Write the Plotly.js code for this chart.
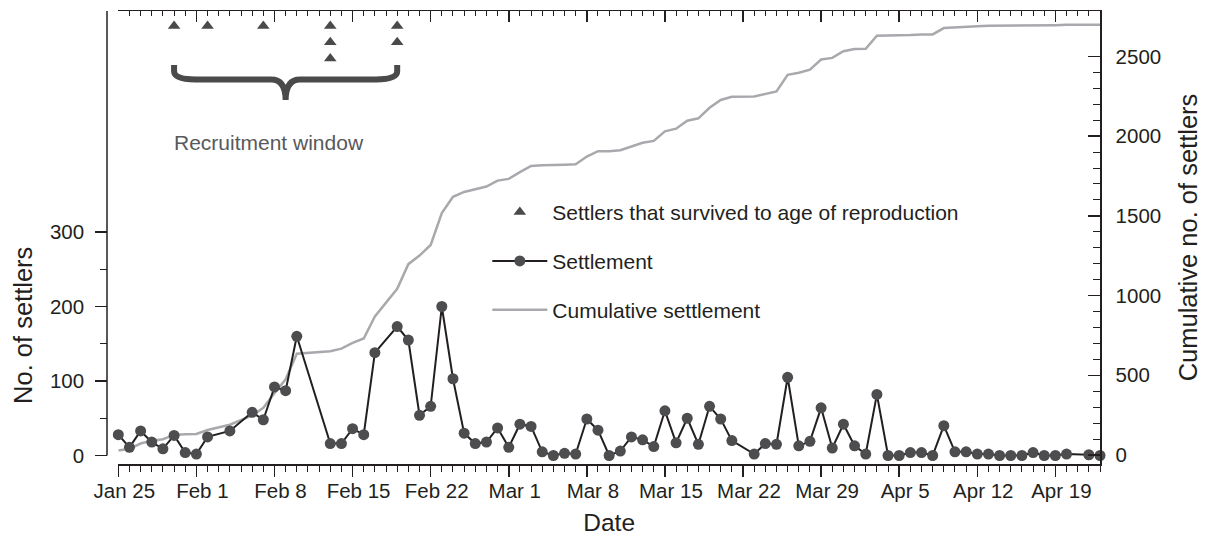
<!DOCTYPE html>
<html><head><meta charset="utf-8">
<script src="https://cdn.plot.ly/plotly-3.0.1.min.js"></script>
<style>html,body{margin:0;padding:0;background:#fff;}#chart{width:1209px;height:536px;}</style>
</head><body><div id="chart"></div>
<script>
const dates = [
 '2001-01-25','2001-01-26','2001-01-27','2001-01-28','2001-01-29','2001-01-30','2001-01-31',
 '2001-02-01','2001-02-02','2001-02-04','2001-02-06','2001-02-07','2001-02-08','2001-02-09','2001-02-10',
 '2001-02-13','2001-02-14','2001-02-15','2001-02-16','2001-02-17','2001-02-19','2001-02-20','2001-02-21',
 '2001-02-22','2001-02-23','2001-02-24','2001-02-25','2001-02-26','2001-02-27','2001-02-28',
 '2001-03-01','2001-03-02','2001-03-03','2001-03-04','2001-03-05','2001-03-06','2001-03-07','2001-03-08',
 '2001-03-09','2001-03-10','2001-03-11','2001-03-12','2001-03-13','2001-03-14','2001-03-15','2001-03-16',
 '2001-03-17','2001-03-18','2001-03-19','2001-03-20','2001-03-21',
 '2001-03-23','2001-03-24','2001-03-25','2001-03-26','2001-03-27','2001-03-28','2001-03-29','2001-03-30','2001-03-31',
 '2001-04-01','2001-04-02','2001-04-03','2001-04-04','2001-04-05','2001-04-06','2001-04-07','2001-04-08',
 '2001-04-09','2001-04-10','2001-04-11','2001-04-12','2001-04-13','2001-04-14','2001-04-15','2001-04-16',
 '2001-04-17','2001-04-18','2001-04-19','2001-04-20','2001-04-22','2001-04-23'
];
const settlers = [
 28, 11, 33, 18, 9, 27, 4,
 2, 25, 33, 58, 48, 92, 87, 160,
 16, 16, 36, 28, 138, 173, 155, 54,
 66, 200, 103, 30, 16, 18, 37,
 11, 42, 39, 5, 0, 3, 2, 49,
 34, 0, 6, 25, 21, 12, 60, 17,
 50, 15, 66, 49, 20,
 2, 16, 15, 105, 13, 19, 64, 10, 42,
 13, 2, 82, 0, 0, 4, 4, 0,
 40, 5, 5, 2, 2, 0, 0, 0,
 4, 0, 0, 2, 1, 0
];
const cumulative = [
 28, 39, 72, 90, 99, 126, 130,
 132, 157, 190, 248, 296, 388, 475, 635,
 651, 667, 703, 731, 869, 1042, 1197, 1251,
 1317, 1517, 1620, 1650, 1666, 1684, 1721,
 1732, 1774, 1813, 1818, 1818, 1821, 1823, 1872,
 1906, 1906, 1912, 1937, 1958, 1970, 2030, 2047,
 2097, 2112, 2178, 2227, 2247,
 2249, 2265, 2280, 2385, 2398, 2417, 2481, 2491, 2533,
 2546, 2548, 2630, 2630, 2630, 2634, 2638, 2638,
 2678, 2683, 2688, 2690, 2692, 2692, 2692, 2692,
 2696, 2696, 2696, 2698, 2699, 2699
];
const survivorDates = ['2001-01-30','2001-02-02','2001-02-07','2001-02-13','2001-02-13','2001-02-13','2001-02-19','2001-02-19'];
const survivorRow = [1, 1, 1, 1, 2, 3, 1, 2];
const leftTicks = [0, 100, 200, 300];
const leftMinor = [50, 150, 250];
const rightTicks = [0, 500, 1000, 1500, 2000, 2500];
const rightMinor = [100,200,300,400,600,700,800,900,1100,1200,1300,1400,1600,1700,1800,1900,2100,2200,2300,2400];

const INK = '#231f20';
const FONT = 'Liberation Sans, Arial, Helvetica, sans-serif';
const DAY = 86400000;
function ms(s){ const p = s.split('-').map(Number); return Date.UTC(p[0], p[1]-1, p[2]); }

const W = 1209, H = 536, L = 107, R = 1209 - 1099.6, T = 11, B = 72;
const plotW = W - L - R, plotH = H - T - B;
const xStart = 11.3 / plotW;
const leftRange = [-11.4, 596.6];
const rightRange = [-56.5, 2785];
const rowRange = [28.04, 0.074];
const xRange = [dates[0], dates[dates.length - 1]];

// brace spanning the recruitment window
const xL = ms(survivorDates[0]), xR = ms(survivorDates[survivorDates.length - 1]), xM = (xL + xR) / 2;
const yTop = 3.41, yA = 3.8, yH = 4.3, yTip = 5.57, rx = 1.9 * DAY, rm = 1.3 * DAY;
const bracePath = `M${xL},${yTop} L${xL},${yA} Q${xL},${yH} ${xL + rx},${yH} L${xM - rm},${yH} Q${xM},${yH} ${xM},${yTip} Q${xM},${yH} ${xM + rm},${yH} L${xR - rx},${yH} Q${xR},${yH} ${xR},${yA} L${xR},${yTop}`;

const traces = [
  {
    x: survivorDates, y: survivorRow, xaxis: 'x2', yaxis: 'y3', type: 'scatter', mode: 'markers',
    name: 'Settlers that survived to age of reproduction',
    marker: {symbol: 'triangle-up', size: 11, color: '#4a4a4a'},
    legendgroup: 'a', legendrank: 1, hoverinfo: 'x'
  },
  {
    x: dates, y: cumulative, xaxis: 'x', yaxis: 'y', type: 'scatter', mode: 'lines',
    name: 'Cumulative settlement',
    line: {color: '#a7a9ac', width: 2.5}, cliponaxis: false,
    legendgroup: 'c', legendrank: 3
  },
  {
    x: dates, y: settlers, xaxis: 'x', yaxis: 'y2', type: 'scatter', mode: 'lines+markers',
    name: 'Settlement',
    line: {color: INK, width: 2},
    marker: {size: 11, color: '#4d4d4f'}, cliponaxis: false,
    legendgroup: 'b', legendrank: 2
  }
];

const layout = {
  width: W, height: H,
  margin: {l: L, r: R, t: T, b: B, pad: 0},
  paper_bgcolor: '#ffffff', plot_bgcolor: 'rgba(0,0,0,0)',
  font: {family: FONT, color: INK, size: 20.5},
  showlegend: true,
  legend: {
    x: 0.383, y: 0.6006, xanchor: 'left', yanchor: 'top',
    traceorder: 'grouped', tracegroupgap: 18.5, itemwidth: 55,
    font: {family: FONT, size: 21, color: INK}, bgcolor: 'rgba(0,0,0,0)', borderwidth: 0
  },
  xaxis: {
    type: 'date', domain: [xStart, 1], range: xRange, anchor: 'y',
    showline: true, linecolor: INK, linewidth: 1.5, mirror: false,
    ticks: 'outside', ticklen: 11.7, tickwidth: 1.5, tickcolor: INK,
    tick0: dates[0], dtick: 7 * DAY, tickformat: '%b %-d',
    tickfont: {family: FONT, size: 20.5, color: INK}, ticklabelshift: 6, ticklabelstandoff: -4,
    minor: {tick0: dates[0], dtick: DAY, ticks: 'outside', ticklen: 6.3, tickwidth: 1, tickcolor: INK, showgrid: false},
    showgrid: false, zeroline: false,
    title: {text: 'Date', font: {family: FONT, size: 24.5, color: INK}, standoff: 13}
  },
  xaxis2: {
    type: 'date', overlaying: 'x', side: 'top', anchor: 'y', range: xRange,
    showline: true, linecolor: INK, linewidth: 1.5,
    ticks: 'inside', ticklen: 11, tickwidth: 1.5, tickcolor: INK,
    tick0: dates[0], dtick: 7 * DAY, showticklabels: false,
    minor: {tick0: dates[0], dtick: DAY, ticks: 'inside', ticklen: 5, tickwidth: 1, tickcolor: INK, showgrid: false},
    showgrid: false, zeroline: false
  },
  yaxis: {
    side: 'right', anchor: 'x', range: rightRange,
    showline: true, linecolor: INK, linewidth: 1.5,
    ticks: 'inside', ticklen: 12, tickwidth: 1.5, tickcolor: INK,
    tickmode: 'array', tickvals: rightTicks, ticklabelstandoff: 10,
    minor: {tickmode: 'array', tickvals: rightMinor, ticks: 'inside', ticklen: 7, tickwidth: 1, tickcolor: INK, showgrid: false},
    tickfont: {family: FONT, size: 20.5, color: INK},
    showgrid: false, zeroline: false,
    title: {text: 'Cumulative no. of settlers', font: {family: FONT, size: 25.5, color: INK}, standoff: 19}
  },
  yaxis2: {
    overlaying: 'y', side: 'left', anchor: 'free', position: 0, range: leftRange,
    showline: false,
    ticks: 'outside', ticklen: 11.7, tickwidth: 1.5, tickcolor: INK,
    tickmode: 'array', tickvals: leftTicks, ticklabelstandoff: 7,
    minor: {tickmode: 'array', tickvals: leftMinor, ticks: 'outside', ticklen: 6.7, tickwidth: 1, tickcolor: INK, showgrid: false},
    tickfont: {family: FONT, size: 20.5, color: INK},
    showgrid: false, zeroline: false
  },
  yaxis3: {overlaying: 'y', range: rowRange, visible: false, anchor: 'x2'},
  shapes: [
    {type: 'line', xref: 'paper', yref: 'y2', x0: 0, x1: 0, y0: 0, y1: leftRange[1], line: {color: INK, width: 1.5}},
    {type: 'path', xref: 'x', yref: 'y3', path: bracePath, line: {color: '#4a4a4a', width: 6}}
  ],
  annotations: [
    {text: 'Recruitment window', xref: 'x', yref: 'paper', x: survivorDates[0], xshift: -2, y: 1 - (142.5 - T) / plotH,
     xanchor: 'left', yanchor: 'middle', showarrow: false, font: {family: FONT, size: 21, color: '#58595b'}},
    {text: 'No. of settlers', xref: 'paper', yref: 'paper', x: (23 - L) / plotW, y: 1 - (325 - T) / plotH,
     xanchor: 'center', yanchor: 'middle', textangle: -90, showarrow: false, font: {family: FONT, size: 25.5, color: INK}}
  ]
};

Plotly.newPlot('chart', traces, layout, {displayModeBar: false, staticPlot: true});
</script>
</body></html>
